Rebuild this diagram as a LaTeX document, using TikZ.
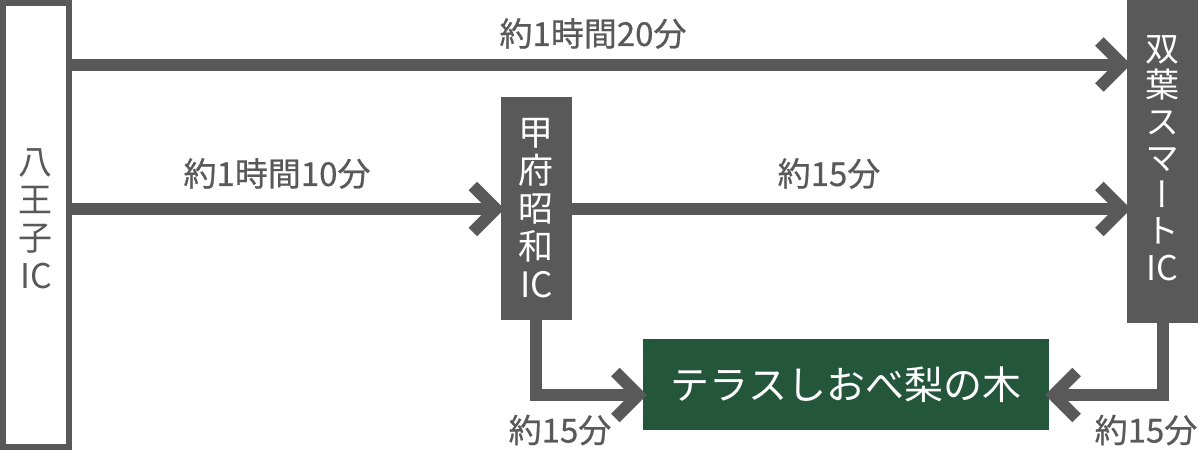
\documentclass[tikz,border=0pt]{standalone}
\usepackage{fontspec}
\newfontfamily\cjk{Noto Sans CJK JP}
\newfontfamily\cjkb[FakeBold=0.6]{Noto Sans CJK JP}
\newfontfamily\cjkv[RawFeature=+vert]{Noto Sans CJK JP}
\usetikzlibrary{arrows.meta,backgrounds}
\definecolor{dgray}{RGB}{89,89,89}
\definecolor{dgreen}{RGB}{36,86,60}
\begin{document}
\begin{tikzpicture}[x=1pt,y=1pt,
  lbl/.style={font=\cjkb\fontsize{33}{38}\selectfont, text=dgray, inner sep=0pt},
  icbox/.style={fill=dgray, text=white, inner sep=0pt, align=center, font=\cjk\fontsize{35}{38}\selectfont},
  conn/.style={draw=dgray, line width=12pt, line join=miter, -{Straight Barb[length=23pt,width=46pt,sharp]}, shorten >=-4pt}]
\useasboundingbox (0,0) rectangle (1200,-450);
\node[draw=dgray, line width=6pt, fill=white, minimum width=66pt, minimum height=444pt, inner sep=0pt] (hachi) at (36,-225) {};
\node[font=\cjk\fontsize{34}{38}\selectfont, text=dgray, align=center, inner sep=0pt] (hachitxt) at (36,-218.5) {八\\王\\子\\IC};
\node[icbox, minimum width=71.3pt, minimum height=223pt] (kofu) at (536.3,-208.5) {甲\\府\\昭\\和\\IC};
\node[icbox, font=\cjkv\fontsize{34}{36.5}\selectfont, minimum width=71pt, minimum height=330pt] (futaba) at (1162.5,-158) {双\\葉\\ス\\マ\\ー\\ト\\IC};
\node[fill=dgreen, text=white, minimum width=406pt, minimum height=91pt, inner sep=0pt, font=\cjk\fontsize{39}{44}\selectfont] (green) at (846,-384.5) {テラスしおべ梨の木};
\coordinate (ya) at (0,-64.5);
\coordinate (yb) at (0,-209);
\coordinate (yc) at (0,-395);
\begin{scope}[on background layer]
\draw[conn] (hachi.east |- ya) -- (futaba.west |- ya);
\draw[conn] (hachi.east |- yb) -- (kofu.west |- yb);
\draw[conn] (kofu.east |- yb) -- (futaba.west |- yb);
\end{scope}
\draw[conn] (kofu.south) |- (green.west |- yc);
\draw[conn] (futaba.south) |- (green.east |- yc);
\node[lbl] (l1) at (593,-33.5) {約1時間20分};
\node[lbl] (l2) at (277,-173.5) {約1時間10分};
\node[lbl] (l3) at (829,-173.5) {約15分};
\node[lbl] (l4) at (560,-430) {約15分};
\node[lbl] (l5) at (1146,-430) {約15分};
\end{tikzpicture}
\end{document}
